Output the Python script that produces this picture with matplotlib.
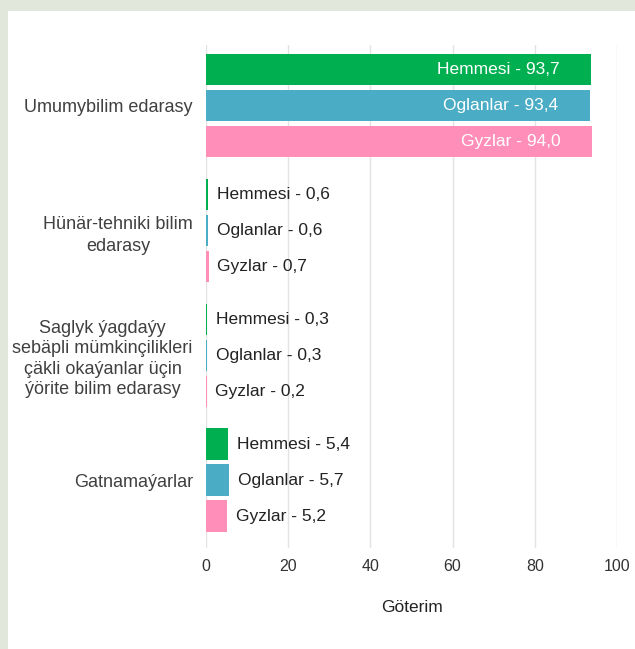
"""Horizontal grouped bars: share of children by type of education (Göterim)."""
import matplotlib
matplotlib.use("Agg")
import matplotlib.pyplot as plt
from matplotlib.patches import Rectangle

plt.rcParams["font.family"] = ["Liberation Sans", "DejaVu Sans"]

CATEGORIES = [
    "Umumybilim edarasy",
    "Hünär-tehniki bilim\nedarasy",
    "Saglyk ýagdaýy\nsebäpli mümkinçilikleri\nçäkli okaýanlar üçin\nýörite bilim edarasy",
    "Gatnamaýarlar",
]
SERIES = ["Hemmesi", "Oglanlar", "Gyzlar"]
HEMMESI = [93.7, 0.6, 0.3, 5.4]
OGLANLAR = [93.4, 0.6, 0.3, 5.7]
GYZLAR = [94.0, 0.7, 0.2, 5.2]
XTICKS = [0, 20, 40, 60, 80, 100]
XLABEL = "Göterim"

COLORS = ["#00B050", "#4BACC6", "#FF8FB8"]
GROUP_STEP = 3.47
BAR_H = 0.87
LINESPACING = [1.2, 1.45, 1.25, 1.2]

W, H = 635, 649
fig = plt.figure(figsize=(W / 100, H / 100), dpi=100)
fig.patch.set_facecolor("#e1e7db")
fig.add_artist(Rectangle((8 / W, 0), 1, 1 - 11 / H, transform=fig.transFigure,
                         facecolor="white", edgecolor="none", zorder=0))

ax = fig.add_axes([206 / W, 1 - 548 / H, 411 / W, 503 / H])
ax.set_facecolor("none")

values = [HEMMESI, OGLANLAR, GYZLAR]
for s, (name, vals, color) in enumerate(zip(SERIES, values, COLORS)):
    ys = [g * GROUP_STEP + (s - 1) for g in range(len(CATEGORIES))]
    ax.barh(ys, vals, height=BAR_H, color=color, zorder=3)
    for y, v in zip(ys, vals):
        txt = f"{name} - {v:.1f}".replace(".", ",")
        if v > 50:
            ax.annotate(txt, (v, y), xytext=(-23, 0), textcoords="offset points",
                        ha="right", va="center", fontsize=12.5, color="white", zorder=4)
        else:
            ax.annotate(txt, (v, y), xytext=(6, 0), textcoords="offset points",
                        ha="left", va="center", fontsize=12.5, color="#222222", zorder=4)

ax.set_yticks([g * GROUP_STEP for g in range(len(CATEGORIES))])
labels = ax.set_yticklabels(CATEGORIES, fontsize=13, color="#404040", ha="right",
                            multialignment="center")
for lab, ls in zip(labels, LINESPACING):
    lab.set_linespacing(ls)
ax.tick_params(axis="y", length=0, pad=9.5)
ax.set_xticks(XTICKS)
ax.set_xticklabels([str(t) for t in XTICKS], fontsize=11.5, color="#333333")
ax.tick_params(axis="x", length=0, pad=8)
ax.set_xlabel(XLABEL, fontsize=12.5, color="#222222", labelpad=19)

ax.set_xlim(0, 100)
ax.set_ylim(3 * GROUP_STEP + 1 + 0.89, -1.69)
ax.grid(axis="x", color="#e3e3e3", lw=1, zorder=0)
for sp in ax.spines.values():
    sp.set_visible(False)

fig.savefig("out.png", dpi=100, facecolor=fig.get_facecolor())
